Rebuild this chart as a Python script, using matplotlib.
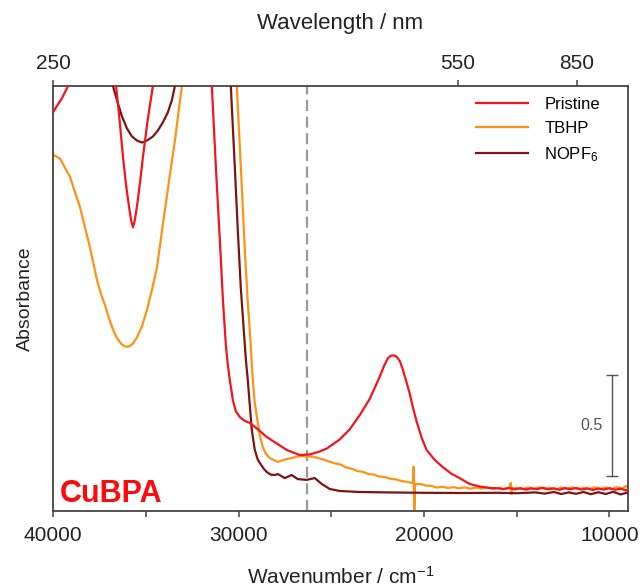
import matplotlib
matplotlib.use("Agg")
import matplotlib.pyplot as plt
from matplotlib.ticker import MultipleLocator

plt.rcParams['font.family'] = ['Liberation Sans', 'DejaVu Sans']
plt.rcParams['mathtext.default'] = 'regular'

# UV-vis-NIR absorbance of CuBPA
pristine_wn = [40000, 39730, 39515, 39190, 38500, 37500, 36600, 36400, 36230, 36050, 35900,
               35780, 35690, 35580, 35450, 35300, 35150, 34900, 34615,
               34000, 33000, 32000, 31438, 31222, 31007, 30846, 30684, 30577, 30469, 30307,
               30146, 29930, 29661, 29392, 28950, 28476, 27900, 27399, 26700, 26160, 25700,
               25245, 24545, 24006, 23468, 22930, 22390, 22150, 21950, 21800, 21650, 21480,
               21300, 21153, 20960, 20777, 20600,
               20400, 20130, 19860, 19430, 19000, 18514, 18083, 17545, 17000, 16470,
               16000, 15700, 15400, 15100, 14800, 14500, 14200, 13900, 13600, 13300, 13000,
               12700, 12400, 12100, 11800, 11500, 11200, 10900, 10600, 10300, 10000, 9700,
               9400, 9100, 9000]
pristine_abs = [1.87, 1.91, 1.94, 2.00, 2.30, 2.40, 2.00, 1.82, 1.65, 1.50, 1.40,
                1.33, 1.30, 1.34, 1.42, 1.53, 1.65, 1.83, 2.00,
                2.40, 2.60, 2.50, 2.00, 1.60, 1.24, 0.95, 0.72, 0.62, 0.545, 0.446,
                0.390, 0.361, 0.342, 0.332, 0.300, 0.262, 0.228, 0.198, 0.173, 0.176, 0.188,
                0.205, 0.250, 0.300, 0.370, 0.450, 0.560, 0.615, 0.652, 0.664, 0.667, 0.660,
                0.638, 0.600, 0.540, 0.480, 0.410,
                0.340, 0.260, 0.198, 0.150, 0.114, 0.080, 0.059, 0.030, 0.017, 0.010,
                0.008, 0.004, 0.010, 0.003, 0.009, 0.002, 0.008, 0.004, 0.011, 0.003, 0.008,
                0.001, 0.009, 0.004, 0.010, 0.002, 0.008, 0.000, 0.007, 0.002, 0.009, 0.001,
                0.006, -0.002, 0.004]

tbhp_wn = [40000, 39620, 39085, 38546, 38007, 37630, 37415, 37200, 36985, 36770, 36555,
           36340, 36125, 35910, 35692, 35477, 35207, 34938, 34670, 34400, 33970, 33430,
           33053, 32500, 31500, 30700, 30092, 29876, 29660, 29500, 29392, 29230, 29122,
           28960, 28853, 28692, 28530, 28315, 27884, 27400, 26700,
           26000, 25700, 25400, 25100, 24800, 24500, 24200, 23900, 23600, 23300, 23000,
           22700, 22400, 22100, 21800, 21500, 21200, 20900, 20600, 20560, 20520, 20480,
           20200, 19900, 19600, 19300, 19000, 18700, 18400, 18100, 17800, 17500, 17200,
           16900, 16600, 16300, 16000, 15700, 15400, 15320, 15280, 15240, 15000, 14700,
           14400, 14100, 13800, 13500, 13200, 12900, 12600, 12300, 12000, 11700, 11400,
           11100, 10800, 10500, 10200, 9900, 9600, 9300, 9100, 9000]
tbhp_abs = [1.66, 1.64, 1.55, 1.40, 1.20, 1.04, 0.97, 0.916, 0.85, 0.795, 0.752,
            0.725, 0.710, 0.710, 0.725, 0.755, 0.810, 0.890, 0.990, 1.10, 1.386, 1.73,
            2.00, 2.40, 2.60, 2.40, 2.00, 1.60, 1.19, 0.93, 0.79, 0.545, 0.43,
            0.332, 0.27, 0.213, 0.18, 0.158, 0.139, 0.153, 0.168,
            0.165, 0.158, 0.150, 0.140, 0.132, 0.126, 0.112, 0.105, 0.094, 0.090, 0.079,
            0.076, 0.066, 0.064, 0.055, 0.052, 0.044, 0.040, 0.034, 0.115, -0.10, 0.030,
            0.030, 0.022, 0.020, 0.012, 0.016, 0.010, 0.014, 0.008, 0.013, 0.006, 0.012,
            0.007, 0.013, 0.005, 0.011, 0.006, 0.012, 0.035, -0.020, 0.008, 0.010, 0.004,
            0.012, 0.005, 0.013, 0.006, 0.011, 0.003, 0.012, 0.006, 0.013, 0.004, 0.011,
            0.005, 0.013, 0.006, 0.012, 0.004, 0.014, 0.008, 0.020, 0.015]

nopf6_wn = [40000, 38000, 36770, 36555, 36285, 36015, 35745, 35477, 35207, 34938, 34615,
            34346, 34077, 33808, 33592, 33430, 32500, 31500, 30415, 30200, 30040, 29876,
            29715, 29607, 29500, 29392, 29284, 29122, 28960, 28853, 28640, 28476, 28260,
            28045, 27884, 27507, 27130, 26807, 26322, 25891, 25514, 25084, 24545, 23468,
            22000, 20000, 18000, 16000, 15000, 14000, 13500, 13000, 12600, 12200, 11800,
            11400, 11000, 10600, 10200, 9800, 9400, 9000]
nopf6_abs = [2.70, 2.50, 2.00, 1.93, 1.85, 1.79, 1.75, 1.73, 1.72, 1.73, 1.75,
             1.78, 1.82, 1.87, 1.93, 2.00, 2.40, 2.50, 2.00, 1.60, 1.29, 1.00,
             0.79, 0.65, 0.545, 0.42, 0.297, 0.198, 0.150, 0.134, 0.105, 0.089, 0.076,
             0.074, 0.079, 0.059, 0.074, 0.054, 0.050, 0.059, 0.030, 0.005, -0.005, -0.010,
             -0.012, -0.014, -0.015, -0.014, -0.016, -0.012, -0.018, -0.010, -0.020, -0.012, -0.019,
             -0.010, -0.021, -0.011, -0.020, -0.009, -0.022, -0.012]

labels = ['Pristine', 'TBHP', 'NOPF$_6$']
colors = ['#F5141E', '#FF9214', '#7D1414']
wl_ticks = [250, 550, 850]
wn_ticks = [40000, 30000, 20000, 10000]
marker_wn = 26320
scale_wn = 9850
scale_lo, scale_hi = 0.07, 0.57

fig = plt.figure(figsize=(6.42, 5.87), dpi=100)
ax = fig.add_axes([0.0826, 0.1295, 0.8956, 0.724])

series = [(pristine_wn, pristine_abs), (tbhp_wn, tbhp_abs), (nopf6_wn, nopf6_abs)]
zorders = [4, 2, 3]
for (wn, ab), lab, c, z in zip(series, labels, colors, zorders):
    ax.plot(wn, ab, color=c, lw=1.6, label=lab, zorder=z, solid_joinstyle='round')

ax.axvline(marker_wn, color='#9a9a9a', lw=1.6, ls=(0, (5, 2.5)), zorder=1)

# scale bar
ax.plot([scale_wn, scale_wn], [scale_lo, scale_hi], color='#555555', lw=1.0,
        marker='_', markersize=8, markeredgewidth=1.0, zorder=5)
ax.text(scale_wn + 500, (scale_lo + scale_hi) / 2, '0.5', color='#555555',
        fontsize=11.5, ha='right', va='center')

ax.text(0.012, 0.02, 'CuBPA', transform=ax.transAxes, color='#FF0A0A',
        fontsize=22, fontweight='bold', va='baseline', ha='left')

ax.set_xlim(40000, 9000)
ax.set_ylim(-0.104, 2.0)
ax.set_yticks([])
ax.xaxis.set_major_locator(MultipleLocator(10000))
ax.xaxis.set_minor_locator(MultipleLocator(5000))
ax.set_xticks(wn_ticks)
ax.tick_params(axis='x', which='both', direction='out', length=4.5, width=1.1,
               color='#444444', labelsize=15, labelcolor='#222222', pad=6)
for s in ax.spines.values():
    s.set_color('#444444')
    s.set_linewidth(1.3)
ax.set_xlabel('Wavenumber / cm$^{-1}$', fontsize=15, color='#222222', labelpad=15)
ax.set_ylabel('Absorbance', fontsize=14, color='#222222', labelpad=14)

ax2 = ax.twiny()
ax2.set_xlim(ax.get_xlim())
ax2.set_xticks([1e7 / w for w in wl_ticks])
ax2.set_xticklabels([str(w) for w in wl_ticks])
ax2.tick_params(axis='x', direction='out', length=4.5, width=1.1, color='#444444',
                labelsize=15, labelcolor='#222222', pad=5)
ax2.set_xlabel('Wavelength / nm', fontsize=16, color='#222222', labelpad=18)
for s in ax2.spines.values():
    s.set_visible(False)

ax.legend(loc='upper left', bbox_to_anchor=(0.7357, 0.975), frameon=False,
          fontsize=12, handlelength=3.1, handletextpad=1.0, labelspacing=0.55,
          borderpad=0, borderaxespad=0)

fig.savefig('out.png', dpi=100)
